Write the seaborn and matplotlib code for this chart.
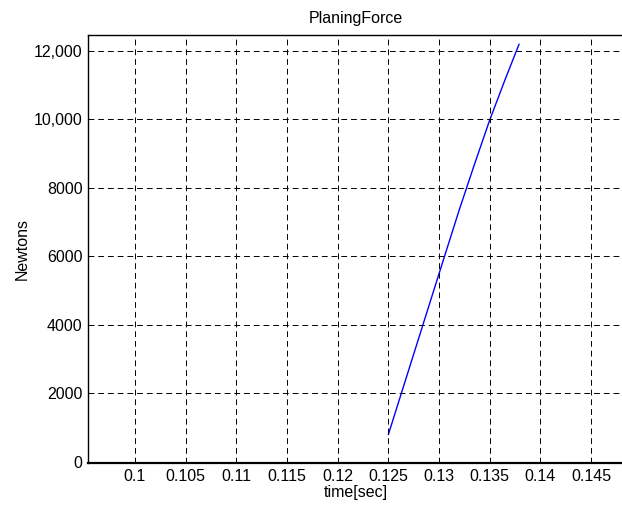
import matplotlib
matplotlib.use("Agg")
import matplotlib.pyplot as plt
import seaborn as sns
import pandas as pd

# Planing force time history
time_sec = [0.125, 0.1275, 0.1305, 0.132, 0.1335, 0.135, 0.1365, 0.1379]
force_n = [790, 3140, 5960, 7360, 8690, 9980, 11150, 12200]

x_ticks = [0.1, 0.105, 0.11, 0.115, 0.12, 0.125, 0.13, 0.135, 0.14, 0.145]
x_tick_labels = ["0.1", "0.105", "0.11", "0.115", "0.12", "0.125", "0.13", "0.135", "0.14", "0.145"]
y_ticks = [0, 2000, 4000, 6000, 8000, 10000, 12000]
y_tick_labels = ["0", "2000", "4000", "6000", "8000", "10,000", "12,000"]

sns.set_style("white")
plt.rcParams["font.family"] = ["Liberation Sans", "DejaVu Sans"]
plt.rcParams["text.color"] = "black"
plt.rcParams["axes.labelcolor"] = "black"

fig = plt.figure(figsize=(6.22, 5.08), dpi=100)
ax = fig.add_axes([88 / 622, 45 / 508, (624 - 88) / 622, (473 - 45) / 508])

df = pd.DataFrame({"time": time_sec, "force": force_n})
sns.lineplot(data=df, x="time", y="force", color="#0000ff", linewidth=1.0, ax=ax)

ax.set_xlim(0.09537, 0.14825)
ax.set_ylim(-40, 12467)
ax.set_xticks(x_ticks)
ax.set_xticklabels(x_tick_labels)
ax.set_yticks(y_ticks)
ax.set_yticklabels(y_tick_labels)

ax.grid(True, color="black", linestyle=(0, (6, 4)), linewidth=0.7)
ax.set_axisbelow(False)
for side in ["left", "bottom", "top", "right"]:
    ax.spines[side].set_color("black")
    ax.spines[side].set_linewidth(1.0)
ax.spines["bottom"].set_linewidth(1.6)

ax.tick_params(direction="in", length=3, width=0.8, labelsize=11.5, colors="black", pad=4)

ax.set_title("PlaningForce", fontsize=11.5, pad=9, color="black")
ax.set_xlabel("time[sec]", fontsize=11.5, labelpad=1)
ax.set_ylabel("Newtons", fontsize=11.5, labelpad=3)

fig.savefig("out.png", dpi=100, facecolor="white")
